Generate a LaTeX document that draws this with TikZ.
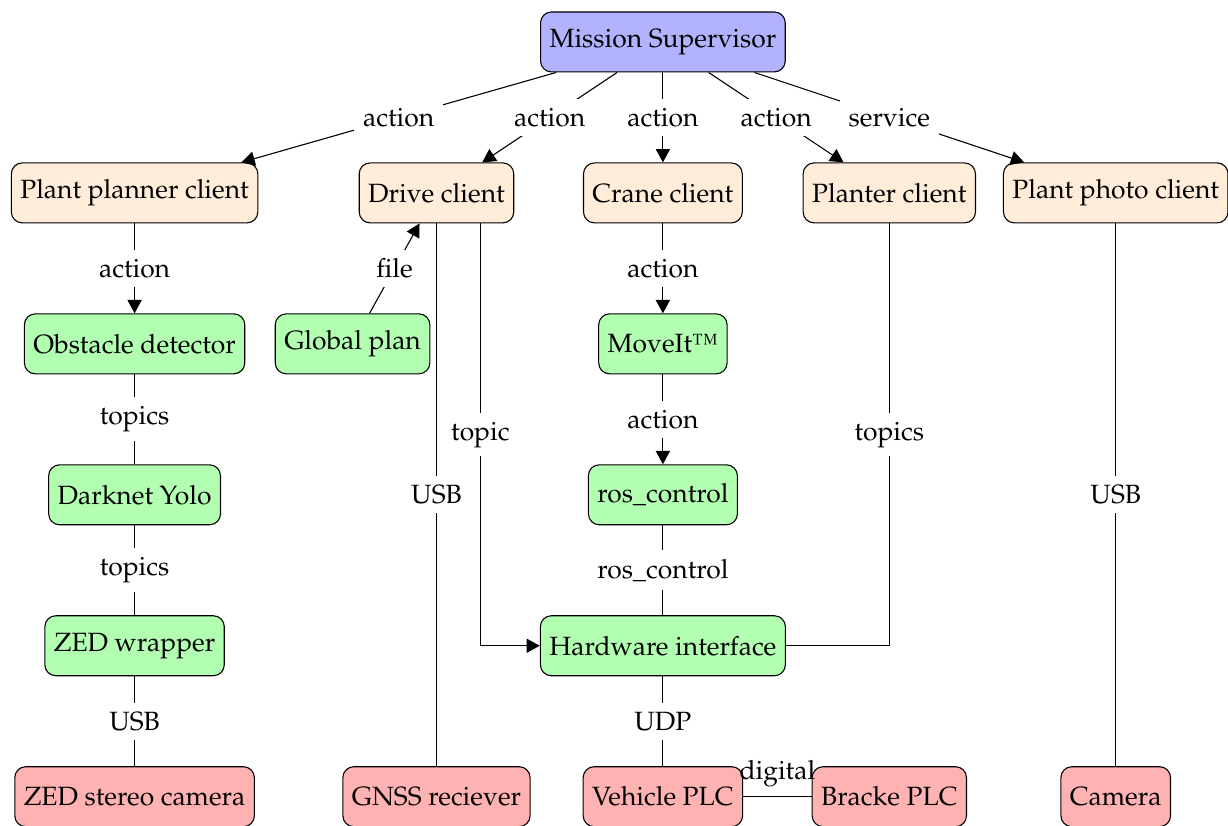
\documentclass[tikz,border=0pt]{standalone}
\usepackage[T1]{fontenc}
\usepackage{mathpazo}
\usepackage{tikz}
\usetikzlibrary{positioning, arrows.meta}

\begin{document}
\begin{tikzpicture}[
  on grid,
  node distance=55.4pt and 83.1pt,
  >={Triangle[length=4.9pt,width=5.2pt]},
  every node/.style={font=\fontsize{9.7pt}{12pt}\selectfont},
]

\tikzset{
  base box/.style={
    draw=black, rounded corners=4pt,
    minimum height=22pt, inner xsep=3.3pt
  },
  supervisor box/.style={base box, fill=blue!30},
  client box/.style={base box, fill=orange!15},
  module box/.style={base box, fill=green!30},
  device box/.style={base box, fill=red!30},
  link label/.style={fill=white, inner sep=3.3pt}
}

\useasboundingbox (-243.3pt,-287.4pt) rectangle (207.4pt,15.4pt);

% top
\node[supervisor box] (sup) at (0,0) {Mission Supervisor};

% clients
\node[client box] (crane) [below=of sup] {Crane client};
\node[client box] (drive) [left=of crane] {Drive client};
\node[client box] (planter) [right=of crane] {Planter client};
\node[client box] (photo) [right=of planter] {Plant photo client};
\node[client box] (planner) [left=110.8pt of drive] {Plant planner client};

% software modules
\node[module box] (obst) [below=of planner] {Obstacle detector};
\node[module box] (glob) [below left=55.4pt and 30.8pt of drive] {Global plan};
\node[module box] (moveit) [below=of crane] {MoveIt\texttrademark};
\node[module box] (dark) [below=of obst] {Darknet Yolo};
\node[module box] (ros) [below=of moveit] {ros\_control};
\node[module box] (zedw) [below=of dark] {ZED wrapper};
\node[module box] (hw) [below=of ros] {Hardware interface};

% devices
\node[device box] (zedc) [below=of zedw] {ZED stereo camera};
\node[device box] (gnss) at (drive |- zedc) {GNSS reciever};
\node[device box] (vplc) [below=of hw] {Vehicle PLC};
\node[device box] (bracke) [right=of vplc] {Bracke PLC};
\node[device box] (cam) at (photo |- zedc) {Camera};

% supervisor links
\draw[->] (sup) -- node[link label] {action} (planner);
\draw[->] (sup) -- node[link label] {action} (drive);
\draw[->] (sup) -- node[link label] {action} (crane);
\draw[->] (sup) -- node[link label] {action} (planter);
\draw[->] (sup) -- node[link label] {service} (photo);

% left column
\draw[->] (planner) -- node[link label] {action} (obst);
\draw (obst) -- node[link label] {topics} (dark);
\draw (dark) -- node[link label] {topics} (zedw);
\draw (zedw) -- node[link label] {USB} (zedc);

% drive column
\draw[->] (glob) -- node[link label] {file} (drive);
\draw (drive) -- node[link label] {USB} (gnss);
\draw[->] ([xshift=16.1pt]drive.south) |- node[link label, pos=0.25] {topic} (hw);

% crane column
\draw[->] (crane) -- node[link label] {action} (moveit);
\draw[->] (moveit) -- node[link label] {action} (ros);
\draw (ros) -- node[link label] {ros\_control} (hw);
\draw (hw) -- node[link label] {UDP} (vplc);
\draw (vplc) -- node[above] {digital} (bracke);

% right columns
\draw (planter) |- node[link label, pos=0.25] {topics} (hw);
\draw (photo) -- node[link label] {USB} (cam);

\end{tikzpicture}
\end{document}
